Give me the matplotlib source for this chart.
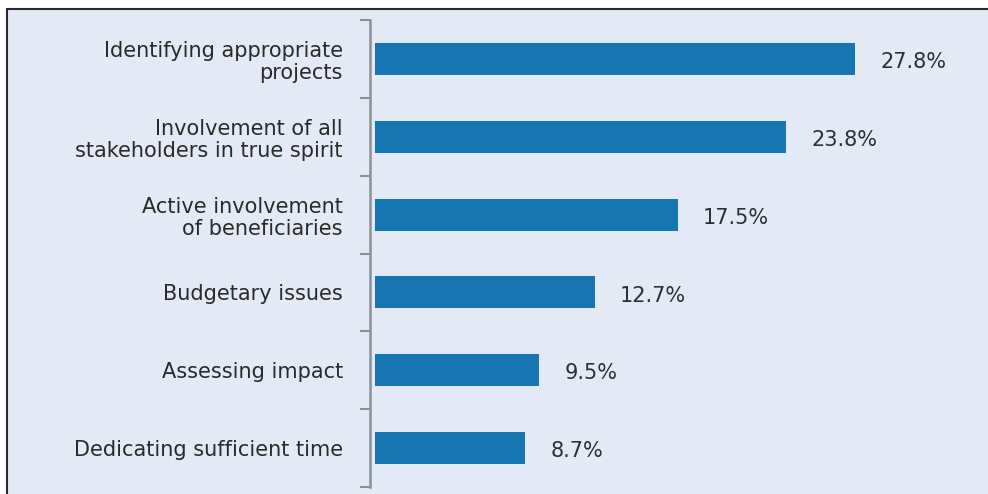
import matplotlib
matplotlib.use("Agg")
import matplotlib.pyplot as plt
from matplotlib.patches import Rectangle

categories = [
    "Identifying appropriate\nprojects",
    "Involvement of all\nstakeholders in true spirit",
    "Active involvement\nof beneficiaries",
    "Budgetary issues",
    "Assessing impact",
    "Dedicating sufficient time",
]
values = [27.8, 23.8, 17.5, 12.7, 9.5, 8.7]
value_labels = ["27.8%", "23.8%", "17.5%", "12.7%", "9.5%", "8.7%"]

plt.rcParams['font.family'] = ['DejaVu Sans']

W, H = 988, 494
fig = plt.figure(figsize=(W / 100, H / 100), dpi=100)
fig.patch.set_facecolor("white")

bg = "#e4eaf5"
panel = Rectangle((7 / W, -0.05), 1.2, 1.05 - 9 / H, transform=fig.transFigure,
                  facecolor=bg, edgecolor="#2b2b2b", linewidth=1.5, zorder=-10)
fig.patches.append(panel)

ax = fig.add_axes([370 / W, 1 - 487 / H, (985 - 370) / W, (487 - 20) / H])
ax.set_facecolor("none")
ax.set_zorder(5)

y = list(range(len(categories)))
ax.barh(y, values, height=0.41, color="#1776b1", left=0)
ax.set_ylim(len(categories) - 0.5, -0.5)
ax.set_xlim(-0.3, 35.3)

for yi, v, lab in zip(y, values, value_labels):
    ax.text(v + 1.45, yi + 0.04, lab, va="center", ha="left", fontsize=15,
            color="#2e2e36")

ax.set_yticks(y)
ax.set_yticklabels(categories, fontsize=15, color="#2a2a2a", ha="right",
                   multialignment="right", linespacing=1.12)
ax.tick_params(axis="y", length=0, pad=19.5)
ax.set_yticks([i - 0.5 for i in range(len(categories) + 1)], minor=True)
ax.tick_params(axis="y", which="minor", length=7, width=1.5, color="#8a8f98")
ax.set_xticks([])

for s in ["top", "right", "bottom"]:
    ax.spines[s].set_visible(False)
ax.spines["left"].set_color("#8a8f98")
ax.spines["left"].set_linewidth(1.8)

fig.savefig("out.png", dpi=100, facecolor=fig.get_facecolor())
